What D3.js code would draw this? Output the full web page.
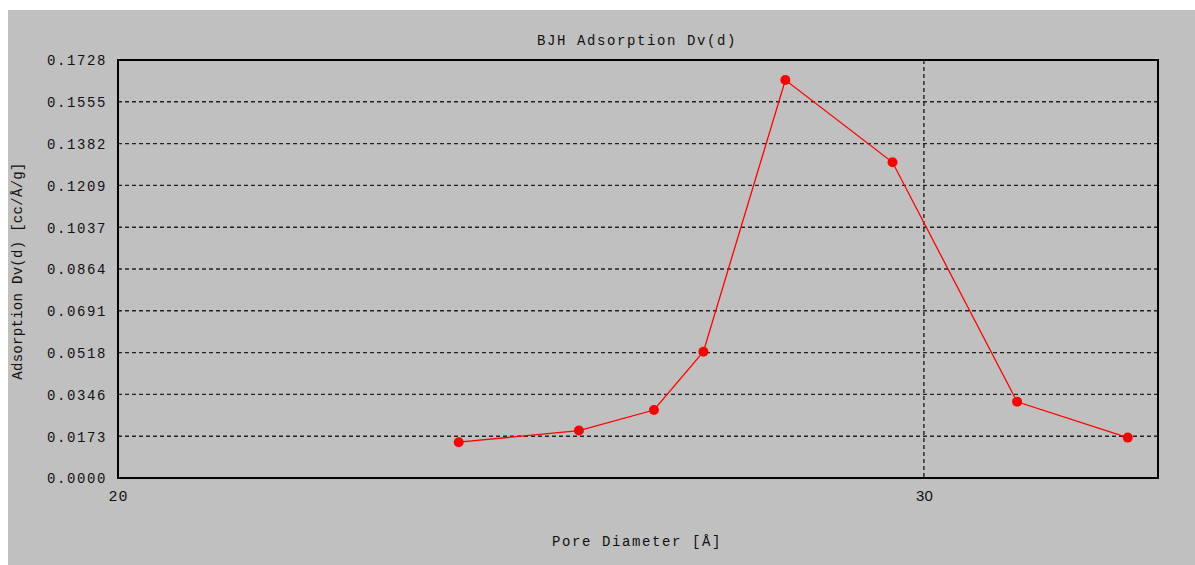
<!DOCTYPE html>
<html>
<head>
<meta charset="utf-8">
<script src="https://cdn.jsdelivr.net/npm/d3@7"></script>
<style>
  html, body { margin: 0; padding: 0; background: #ffffff; }
  svg { display: block; }
  .mono { font-family: "Liberation Mono", "DejaVu Sans Mono", monospace; font-size: 14px; fill: #111; }
</style>
</head>
<body>
<svg id="chart" width="1195" height="565"></svg>
<script>
// BJH adsorption pore size distribution
const poreDiameter = [23.74, 25.22, 26.19, 26.85, 27.98, 29.53, 31.44, 33.24];   // Å
const dvd          = [0.0148, 0.0196, 0.0281, 0.0522, 0.1645, 0.1305, 0.0315, 0.0167]; // cc/Å/g

const xDomain = [20, 33.75];
const xTicks = [20, 30];
const yMax = 0.1728;
const yTickLabels = ["0.0000", "0.0173", "0.0346", "0.0518", "0.0691", "0.0864",
                     "0.1037", "0.1209", "0.1382", "0.1555", "0.1728"];

const titleText = "BJH Adsorption Dv(d)";
const xTitle = "Pore Diameter [Å]";
const yTitle = "Adsorption Dv(d) [cc/Å/g]";

const svg = d3.select("#chart");
const W = 1195, H = 565;
const plot = { left: 118, top: 60, right: 1158, bottom: 478 };

// panel background
svg.append("rect").attr("x", 8).attr("y", 10).attr("width", W - 8).attr("height", H - 10)
  .attr("fill", "#c0c0c0");

const x = d3.scaleLog().domain(xDomain).range([plot.left, plot.right]);
const y = d3.scaleLinear().domain([0, yMax]).range([plot.bottom, plot.top]);
const yTickVals = yTickLabels.map((_, i) => yMax * i / (yTickLabels.length - 1));

// horizontal dashed grid
svg.append("g")
  .selectAll("line")
  .data(yTickVals.slice(1, -1))
  .join("line")
  .attr("x1", plot.left).attr("x2", plot.right)
  .attr("y1", d => y(d)).attr("y2", d => y(d))
  .attr("stroke", "#222").attr("stroke-width", 1.4).attr("stroke-dasharray", "4,3");

// vertical dashed grid
svg.append("g")
  .selectAll("line")
  .data(xTicks.filter(t => t > xDomain[0]))
  .join("line")
  .attr("x1", d => x(d)).attr("x2", d => x(d))
  .attr("y1", plot.top).attr("y2", plot.bottom)
  .attr("stroke", "#222").attr("stroke-width", 1.4).attr("stroke-dasharray", "4,3");

// y axis labels
const yAxis = d3.axisLeft(y).tickValues(yTickVals)
  .tickFormat((d, i) => yTickLabels[i]).tickSize(0).tickPadding(11);
const gy = svg.append("g").attr("transform", `translate(${plot.left},0)`).call(yAxis);
gy.select(".domain").remove();
gy.selectAll("text").attr("class", "mono").attr("fill", "#111")
  .style("letter-spacing", "1.6px").attr("dy", "0.35em");

// x axis labels
const xAxis = d3.axisBottom(x).tickValues(xTicks).tickFormat(d3.format("d")).tickSize(0).tickPadding(12);
const gx = svg.append("g").attr("transform", `translate(0,${plot.bottom})`).call(xAxis);
gx.select(".domain").remove();
gx.selectAll("text")
  .attr("fill", "#111")
  .style("font-family", d => d === xDomain[0] ? "Liberation Mono, monospace" : "Liberation Sans, Arial, sans-serif")
  .style("font-size", "15px")
  .style("letter-spacing", d => d === xDomain[0] ? "1px" : "0px");

// plot frame
svg.append("rect")
  .attr("x", plot.left).attr("y", plot.top)
  .attr("width", plot.right - plot.left).attr("height", plot.bottom - plot.top)
  .attr("fill", "none").attr("stroke", "#000").attr("stroke-width", 2);

// data line and markers
const pts = poreDiameter.map((d, i) => [d, dvd[i]]);
svg.append("path")
  .datum(pts)
  .attr("fill", "none").attr("stroke", "#ff0000").attr("stroke-width", 1.3)
  .attr("d", d3.line().x(d => x(d[0])).y(d => y(d[1])));

svg.append("g")
  .selectAll("circle")
  .data(pts)
  .join("circle")
  .attr("cx", d => x(d[0])).attr("cy", d => y(d[1]))
  .attr("r", 5).attr("fill", "#ff0000");

// titles
svg.append("text").attr("class", "mono")
  .attr("x", (plot.left + plot.right) / 2 - 1).attr("y", 40).attr("dy", "0.35em")
  .attr("text-anchor", "middle").style("letter-spacing", "1.6px")
  .text(titleText);

svg.append("text").attr("class", "mono")
  .attr("x", (plot.left + plot.right) / 2 - 1).attr("y", 541).attr("dy", "0.35em")
  .attr("text-anchor", "middle").style("letter-spacing", "1.6px")
  .text(xTitle);

svg.append("text").attr("class", "mono")
  .attr("transform", `translate(17,${(plot.top + plot.bottom) / 2 + 2}) rotate(-90)`)
  .attr("dy", "0.35em")
  .attr("text-anchor", "middle").style("letter-spacing", "0.3px")
  .text(yTitle);
</script>
</body>
</html>
